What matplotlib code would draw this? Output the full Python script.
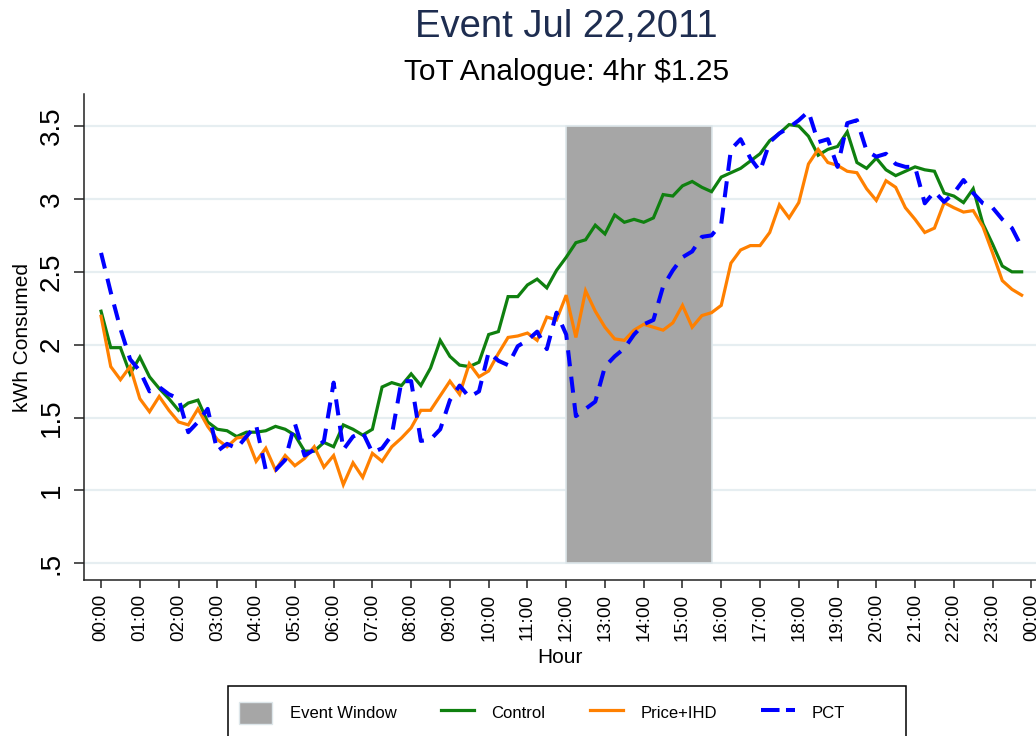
import matplotlib
matplotlib.use("Agg")
import matplotlib.pyplot as plt
from matplotlib.patches import Patch, Rectangle
from matplotlib.lines import Line2D
import numpy as np

# ---------------- data ----------------
# 15-minute intervals, hour of day
hours = np.arange(96) / 4.0

control = [2.23, 1.98, 1.98, 1.80, 1.915, 1.78, 1.70, 1.63, 1.55, 1.60, 1.62, 1.47,
           1.42, 1.41, 1.37, 1.40, 1.40, 1.41, 1.44, 1.42, 1.38, 1.27, 1.27, 1.33,
           1.30, 1.45, 1.42, 1.38, 1.42, 1.71, 1.74, 1.72, 1.80, 1.72, 1.84, 2.03,
           1.92, 1.86, 1.85, 1.88, 2.07, 2.09, 2.33, 2.33, 2.41, 2.45, 2.39, 2.51,
           2.60, 2.70, 2.72, 2.82, 2.76, 2.89, 2.84, 2.86, 2.84, 2.87, 3.03, 3.02,
           3.09, 3.12, 3.08, 3.05, 3.15, 3.18, 3.21, 3.26, 3.31, 3.40, 3.45, 3.51,
           3.50, 3.43, 3.30, 3.34, 3.36, 3.46, 3.25, 3.21, 3.28, 3.20, 3.16, 3.19,
           3.22, 3.20, 3.19, 3.04, 3.02, 2.975, 3.07, 2.83, 2.69, 2.54, 2.50, 2.50]

price_ihd = [2.195, 1.85, 1.76, 1.85, 1.63, 1.54, 1.645, 1.55, 1.47, 1.45, 1.56, 1.44,
             1.35, 1.30, 1.36, 1.37, 1.20, 1.29, 1.14, 1.24, 1.17, 1.22, 1.30, 1.16,
             1.24, 1.04, 1.19, 1.09, 1.255, 1.20, 1.30, 1.36, 1.43, 1.55, 1.55, 1.65,
             1.75, 1.66, 1.87, 1.78, 1.82, 1.94, 2.05, 2.06, 2.08, 2.03, 2.19, 2.17,
             2.34, 2.05, 2.37, 2.23, 2.12, 2.04, 2.03, 2.10, 2.14, 2.12, 2.10, 2.15,
             2.27, 2.12, 2.20, 2.22, 2.27, 2.56, 2.65, 2.68, 2.68, 2.77, 2.96, 2.87,
             2.975, 3.24, 3.34, 3.25, 3.23, 3.19, 3.18, 3.07, 2.99, 3.125, 3.08, 2.94,
             2.86, 2.77, 2.80, 2.975, 2.94, 2.91, 2.92, 2.81, 2.63, 2.44, 2.38, 2.34]

pct = [2.63, 2.36, 2.11, 1.90, 1.82, 1.68, 1.71, 1.66, 1.63, 1.40, 1.47, 1.56,
       1.27, 1.32, 1.29, 1.37, 1.45, 1.14, 1.14, 1.21, 1.46, 1.24, 1.28, 1.34,
       1.74, 1.28, 1.37, 1.40, 1.26, 1.29, 1.38, 1.75, 1.75, 1.34, 1.35, 1.42,
       1.62, 1.72, 1.64, 1.68, 1.95, 1.89, 1.86, 1.99, 2.03, 2.09, 1.97, 2.22,
       2.07, 1.51, 1.56, 1.61, 1.85, 1.92, 1.975, 2.07, 2.14, 2.17, 2.40, 2.51,
       2.60, 2.64, 2.74, 2.75, 2.83, 3.34, 3.41, 3.28, 3.19, 3.39, 3.45, 3.49,
       3.54, 3.60, 3.39, 3.41, 3.22, 3.52, 3.54, 3.33, 3.29, 3.31, 3.24, 3.22,
       3.22, 2.97, 3.05, 2.98, 3.04, 3.13, 3.04, 2.97, 2.94, 2.86, 2.80, 2.67]

# event window
event_start, event_end = 12.0, 15.75
event_low, event_high = 0.5, 3.5

x_ticks = list(range(25))
x_tick_labels = ["%02d:00" % (h % 24) for h in range(25)]
y_ticks = [0.5, 1, 1.5, 2, 2.5, 3, 3.5]
y_tick_labels = [".5", "1", "1.5", "2", "2.5", "3", "3.5"]

title = "Event Jul 22,2011"
subtitle = "ToT Analogue: 4hr $1.25"

# ---------------- style ----------------
plt.rcParams["font.family"] = ["Liberation Sans", "DejaVu Sans"]
W, H = 1036, 736
fig = plt.figure(figsize=(W / 100, H / 100), dpi=100)
fig.patch.set_facecolor("white")

left_px, right_px, top_px, bot_px = 84, 1036, 94, 580
ax = fig.add_axes([left_px / W, 1 - bot_px / H, (right_px - left_px) / W, (bot_px - top_px) / H])
ax.set_facecolor("white")

grid_col = "#e6eef1"
c_green = "#0f800f"
c_orange = "#ff8000"
c_blue = "#0000ff"
c_gray = "#a6a6a6"

ax.set_xlim(-0.44, 24.12)
ax.set_ylim(0.386, 3.72)

ax.set_yticks(y_ticks)
ax.yaxis.grid(True, color=grid_col, linewidth=1.6, zorder=0)
ax.set_axisbelow(True)

ax.fill_between([event_start, event_end], [event_low, event_low], [event_high, event_high],
                facecolor=c_gray, edgecolor="#dde6ea", linewidth=1.2, zorder=1)

ax.plot(hours, control, color=c_green, lw=2.3, zorder=3, solid_joinstyle="miter")
ax.plot(hours, price_ihd, color=c_orange, lw=2.3, zorder=3, solid_joinstyle="miter")
ax.plot(hours, pct, color=c_blue, lw=2.9, linestyle=(0, (4.0, 2.6)), zorder=4)

for s in ["top", "right"]:
    ax.spines[s].set_visible(False)
for s in ["left", "bottom"]:
    ax.spines[s].set_color("#222222")
    ax.spines[s].set_linewidth(1.1)

ax.set_yticklabels(y_tick_labels, rotation=90, va="center", fontsize=20)
ax.tick_params(axis="y", length=7, width=1.1, pad=7, color="#222222")
ax.set_xticks(x_ticks)
ax.set_xticklabels(x_tick_labels, rotation=90, fontsize=13.5)
ax.tick_params(axis="x", length=6, width=1.1, pad=4, color="#222222")

ax.set_ylabel("kWh Consumed", fontsize=15)
ax.yaxis.set_label_coords((32 - left_px) / (right_px - left_px), 0.5)
ax.set_xlabel("Hour", fontsize=15, labelpad=5)

fig.text(566 / W, 1 - 27 / H, title, ha="center", va="center", fontsize=27.5, color="#1e2d50")
fig.text(567 / W, 1 - 72 / H, subtitle, ha="center", va="center", fontsize=21.5, color="black")

# legend frame drawn separately to match the reference's box
fig.patches.append(Rectangle((228 / W, 1 - 748 / H), (906 - 228) / W, (748 - 686) / H,
                             transform=fig.transFigure, facecolor="white",
                             edgecolor="black", linewidth=1.1, zorder=5))

handles = [
    Patch(facecolor=c_gray, edgecolor="#dde6ea", label="Event Window"),
    Line2D([0], [0], color=c_green, lw=2.3, label="Control"),
    Line2D([0], [0], color=c_orange, lw=2.3, label="Price+IHD"),
    Line2D([0], [0], color=c_blue, lw=2.9, linestyle=(0, (4.6, 1.6)), label="PCT"),
]
leg = fig.legend(handles=handles, loc="center left", bbox_to_anchor=(239 / W, 1 - 713 / H),
                 ncol=4, frameon=False, fontsize=12, borderaxespad=0, borderpad=0,
                 handlelength=2.0, handleheight=1.7, columnspacing=2.65, handletextpad=1.05)
leg.set_zorder(6)

fig.savefig("out.png", dpi=100, facecolor="white")
